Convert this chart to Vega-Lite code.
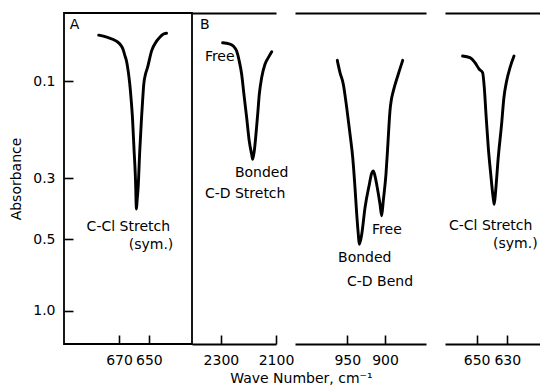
{
  "$schema": "https://vega.github.io/schema/vega-lite/v6.json",
  "padding": {"left": 8, "top": 12, "right": 0, "bottom": 0},
  "background": "white",
  "spacing": 0,
  "bounds": "flush",
  "title": {"text": "Wave Number, cm⁻¹", "orient": "bottom", "anchor": "middle", "fontSize": 14, "fontWeight": "normal", "font": "DejaVu Sans", "color": "black", "offset": 4, "dx": 27},
  "config": {
    "view": {"stroke": null},
    "font": "DejaVu Sans",
    "axis": {
      "grid": false,
      "domainColor": "black",
      "domainWidth": 1.8,
      "tickColor": "black",
      "tickWidth": 1.6,
      "tickSize": 9,
      "labelPadding": 9,
      "labelFlush": false,
      "labelOverlap": false,
      "labelColor": "black",
      "labelFont": "DejaVu Sans",
      "labelFontSize": 14,
      "titleColor": "black",
      "titleFont": "DejaVu Sans",
      "titleFontWeight": "normal"
    },
    "text": {"font": "DejaVu Sans", "fontSize": 14, "align": "left", "baseline": "middle", "color": "black"},
    "line": {"color": "black", "strokeWidth": 2.9, "interpolate": "monotone", "strokeCap": "round", "strokeJoin": "round"}
  },
  "hconcat": [
    {
      "width": 128,
      "height": 331,
      "view": {"stroke": "black", "strokeWidth": 1.8},
      "layer": [
        {
          "data": {"values": [
            {"wavenumber": 683.7, "transmittance": 0.933},
            {"wavenumber": 678.3, "transmittance": 0.927},
            {"wavenumber": 671.8, "transmittance": 0.915},
            {"wavenumber": 668.9, "transmittance": 0.903},
            {"wavenumber": 667.3, "transmittance": 0.890},
            {"wavenumber": 666.2, "transmittance": 0.873},
            {"wavenumber": 665.0, "transmittance": 0.855},
            {"wavenumber": 663.8, "transmittance": 0.822},
            {"wavenumber": 662.8, "transmittance": 0.785},
            {"wavenumber": 661.8, "transmittance": 0.734},
            {"wavenumber": 661.0, "transmittance": 0.684},
            {"wavenumber": 659.9, "transmittance": 0.583},
            {"wavenumber": 659.2, "transmittance": 0.523},
            {"wavenumber": 658.8, "transmittance": 0.472},
            {"wavenumber": 658.6, "transmittance": 0.432},
            {"wavenumber": 658.3, "transmittance": 0.408},
            {"wavenumber": 657.9, "transmittance": 0.432},
            {"wavenumber": 657.2, "transmittance": 0.472},
            {"wavenumber": 656.1, "transmittance": 0.583},
            {"wavenumber": 654.9, "transmittance": 0.684},
            {"wavenumber": 654.2, "transmittance": 0.734},
            {"wavenumber": 653.4, "transmittance": 0.785},
            {"wavenumber": 652.2, "transmittance": 0.816},
            {"wavenumber": 650.9, "transmittance": 0.835},
            {"wavenumber": 648.2, "transmittance": 0.885},
            {"wavenumber": 644.8, "transmittance": 0.915},
            {"wavenumber": 642.6, "transmittance": 0.927},
            {"wavenumber": 640.4, "transmittance": 0.936},
            {"wavenumber": 638.1, "transmittance": 0.939}
          ]},
          "mark": {"type": "line"},
          "encoding": {
            "x": {"field": "wavenumber", "type": "quantitative", "scale": {"domain": [621, 707], "reverse": true, "nice": false, "zero": false},
                  "axis": {"orient": "bottom", "offset": -9, "values": [670, 650], "format": "d", "title": null, "domain": false}},
            "y": {"field": "transmittance", "type": "quantitative", "scale": {"domain": [0, 1], "nice": false, "zero": false},
                  "axis": {"orient": "left", "offset": -9, "values": [0.7943, 0.5012, 0.3162, 0.1], "labelExpr": "format(-log(datum.value)/LN10, '.1f')", "labelPadding": 9, "title": "Absorbance", "titleFontSize": 14, "titlePadding": 9, "domain": false}}
          }
        },
        {
          "data": {"values": [
            {"wavenumber": 703.2, "transmittance": 0.964, "label": "A", "weight": "bold"},
            {"wavenumber": 691.8, "transmittance": 0.3535, "label": "C-Cl Stretch", "weight": "normal"},
            {"wavenumber": 663.5, "transmittance": 0.299, "label": "(sym.)", "weight": "normal"}
          ]},
          "mark": {"type": "text"},
          "encoding": {
            "x": {"field": "wavenumber", "type": "quantitative"},
            "y": {"field": "transmittance", "type": "quantitative"},
            "text": {"field": "label"},
            "fontWeight": {"field": "weight", "type": "nominal", "scale": null}
          }
        }
      ]
    },
    {
      "width": 84,
      "height": 331,
      "layer": [
        {
          "data": {"values": [
            {"wavenumber": 2293.8, "transmittance": 0.910},
            {"wavenumber": 2269.8, "transmittance": 0.907},
            {"wavenumber": 2255.3, "transmittance": 0.900},
            {"wavenumber": 2242.9, "transmittance": 0.885},
            {"wavenumber": 2233.5, "transmittance": 0.855},
            {"wavenumber": 2224.7, "transmittance": 0.815},
            {"wavenumber": 2216.4, "transmittance": 0.754},
            {"wavenumber": 2206.5, "transmittance": 0.684},
            {"wavenumber": 2197.1, "transmittance": 0.613},
            {"wavenumber": 2188.4, "transmittance": 0.573},
            {"wavenumber": 2184.7, "transmittance": 0.558},
            {"wavenumber": 2178.9, "transmittance": 0.583},
            {"wavenumber": 2172.7, "transmittance": 0.634},
            {"wavenumber": 2166.5, "transmittance": 0.694},
            {"wavenumber": 2160.7, "transmittance": 0.754},
            {"wavenumber": 2152.0, "transmittance": 0.805},
            {"wavenumber": 2140.0, "transmittance": 0.845},
            {"wavenumber": 2128.0, "transmittance": 0.865},
            {"wavenumber": 2115.6, "transmittance": 0.883}
          ]},
          "mark": {"type": "line"},
          "encoding": {
            "x": {"field": "wavenumber", "type": "quantitative", "scale": {"domain": [2100, 2405], "reverse": true, "nice": false, "zero": false},
                  "axis": {"orient": "bottom", "offset": -9, "values": [2300, 2100], "format": "d", "title": null, "domain": false}},
            "y": {"field": "transmittance", "type": "quantitative", "scale": {"domain": [0, 1], "nice": false, "zero": false}, "axis": null}
          }
        },
        {
          "data": {"values": [
            {"wavenumber": 2376.4, "transmittance": 0.964, "label": "B", "weight": "bold"},
            {"wavenumber": 2358.2, "transmittance": 0.867, "label": "Free", "weight": "normal"},
            {"wavenumber": 2249.1, "transmittance": 0.517, "label": "Bonded", "weight": "normal"},
            {"wavenumber": 2358.2, "transmittance": 0.453, "label": "C-D Stretch", "weight": "normal"}
          ]},
          "mark": {"type": "text"},
          "encoding": {
            "x": {"field": "wavenumber", "type": "quantitative", "axis": {"orient": "top", "labels": false, "ticks": false, "title": null}},
            "y": {"field": "transmittance", "type": "quantitative", "axis": null},
            "text": {"field": "label"},
            "fontWeight": {"field": "weight", "type": "nominal", "scale": null}
          }
        },
        {
          "data": {"values": []},
          "mark": {"type": "rule"},
          "encoding": {
            "x": {"field": "wavenumber", "type": "quantitative", "axis": {"orient": "bottom", "labels": false, "ticks": false, "title": null}}
          }
        }
      ],
      "resolve": {"axis": {"x": "independent"}}
    },
    {
      "width": 19,
      "height": 331,
      "data": {"values": []},
      "mark": {"type": "point"}
    },
    {
      "width": 131,
      "height": 331,
      "layer": [
        {
          "data": {"values": [
            {"wavenumber": 963.3, "transmittance": 0.857},
            {"wavenumber": 959.7, "transmittance": 0.820},
            {"wavenumber": 955.3, "transmittance": 0.785},
            {"wavenumber": 950.8, "transmittance": 0.714},
            {"wavenumber": 946.4, "transmittance": 0.634},
            {"wavenumber": 942.8, "transmittance": 0.563},
            {"wavenumber": 939.8, "transmittance": 0.472},
            {"wavenumber": 937.5, "transmittance": 0.392},
            {"wavenumber": 935.4, "transmittance": 0.331},
            {"wavenumber": 934.1, "transmittance": 0.301},
            {"wavenumber": 930.9, "transmittance": 0.331},
            {"wavenumber": 926.5, "transmittance": 0.412},
            {"wavenumber": 920.8, "transmittance": 0.482},
            {"wavenumber": 917.9, "transmittance": 0.514},
            {"wavenumber": 915.5, "transmittance": 0.523},
            {"wavenumber": 913.3, "transmittance": 0.508},
            {"wavenumber": 911.0, "transmittance": 0.482},
            {"wavenumber": 906.6, "transmittance": 0.422},
            {"wavenumber": 904.4, "transmittance": 0.387},
            {"wavenumber": 902.3, "transmittance": 0.432},
            {"wavenumber": 898.7, "transmittance": 0.513},
            {"wavenumber": 896.7, "transmittance": 0.583},
            {"wavenumber": 895.4, "transmittance": 0.634},
            {"wavenumber": 893.4, "transmittance": 0.704},
            {"wavenumber": 891.4, "transmittance": 0.740},
            {"wavenumber": 889.0, "transmittance": 0.764},
            {"wavenumber": 882.4, "transmittance": 0.815},
            {"wavenumber": 876.5, "transmittance": 0.857}
          ]},
          "mark": {"type": "line"},
          "encoding": {
            "x": {"field": "wavenumber", "type": "quantitative", "scale": {"domain": [845.6, 1019.4], "reverse": true, "nice": false, "zero": false},
                  "axis": {"orient": "bottom", "offset": -9, "values": [950, 900], "format": "d", "title": null, "domain": false}},
            "y": {"field": "transmittance", "type": "quantitative", "scale": {"domain": [0, 1], "nice": false, "zero": false}, "axis": null}
          }
        },
        {
          "data": {"values": [
            {"wavenumber": 917.2, "transmittance": 0.344, "label": "Free"},
            {"wavenumber": 962.3, "transmittance": 0.260, "label": "Bonded"},
            {"wavenumber": 950.4, "transmittance": 0.187, "label": "C-D Bend"}
          ]},
          "mark": {"type": "text"},
          "encoding": {
            "x": {"field": "wavenumber", "type": "quantitative", "axis": {"orient": "top", "labels": false, "ticks": false, "title": null}},
            "y": {"field": "transmittance", "type": "quantitative", "axis": null},
            "text": {"field": "label"}
          }
        },
        {
          "data": {"values": []},
          "mark": {"type": "rule"},
          "encoding": {
            "x": {"field": "wavenumber", "type": "quantitative", "axis": {"orient": "bottom", "labels": false, "ticks": false, "title": null}}
          }
        }
      ],
      "resolve": {"axis": {"x": "independent"}}
    },
    {
      "width": 19,
      "height": 331,
      "data": {"values": []},
      "mark": {"type": "point"}
    },
    {
      "width": 95,
      "height": 331,
      "layer": [
        {
          "data": {"values": [
            {"wavenumber": 659.2, "transmittance": 0.870},
            {"wavenumber": 654.4, "transmittance": 0.865},
            {"wavenumber": 651.1, "transmittance": 0.850},
            {"wavenumber": 648.3, "transmittance": 0.830},
            {"wavenumber": 646.1, "transmittance": 0.820},
            {"wavenumber": 645.0, "transmittance": 0.774},
            {"wavenumber": 643.9, "transmittance": 0.694},
            {"wavenumber": 642.4, "transmittance": 0.593},
            {"wavenumber": 640.8, "transmittance": 0.513},
            {"wavenumber": 639.2, "transmittance": 0.442},
            {"wavenumber": 638.5, "transmittance": 0.422},
            {"wavenumber": 637.6, "transmittance": 0.462},
            {"wavenumber": 635.9, "transmittance": 0.563},
            {"wavenumber": 633.7, "transmittance": 0.664},
            {"wavenumber": 632.2, "transmittance": 0.744},
            {"wavenumber": 630.4, "transmittance": 0.795},
            {"wavenumber": 628.2, "transmittance": 0.835},
            {"wavenumber": 625.6, "transmittance": 0.870}
          ]},
          "mark": {"type": "line"},
          "encoding": {
            "x": {"field": "wavenumber", "type": "quantitative", "scale": {"domain": [608.6, 670.7], "reverse": true, "nice": false, "zero": false},
                  "axis": {"orient": "bottom", "offset": -9, "values": [650, 630], "format": "d", "title": null, "domain": false}},
            "y": {"field": "transmittance", "type": "quantitative", "scale": {"domain": [0, 1], "nice": false, "zero": false}, "axis": null}
          }
        },
        {
          "data": {"values": [
            {"wavenumber": 668.1, "transmittance": 0.3565, "label": "C-Cl Stretch"},
            {"wavenumber": 639.3, "transmittance": 0.302, "label": "(sym.)"}
          ]},
          "mark": {"type": "text"},
          "encoding": {
            "x": {"field": "wavenumber", "type": "quantitative", "axis": {"orient": "top", "labels": false, "ticks": false, "title": null}},
            "y": {"field": "transmittance", "type": "quantitative", "axis": null},
            "text": {"field": "label"}
          }
        },
        {
          "data": {"values": []},
          "mark": {"type": "rule"},
          "encoding": {
            "x": {"field": "wavenumber", "type": "quantitative", "axis": {"orient": "bottom", "labels": false, "ticks": false, "title": null}}
          }
        }
      ],
      "resolve": {"axis": {"x": "independent"}}
    }
  ]
}
